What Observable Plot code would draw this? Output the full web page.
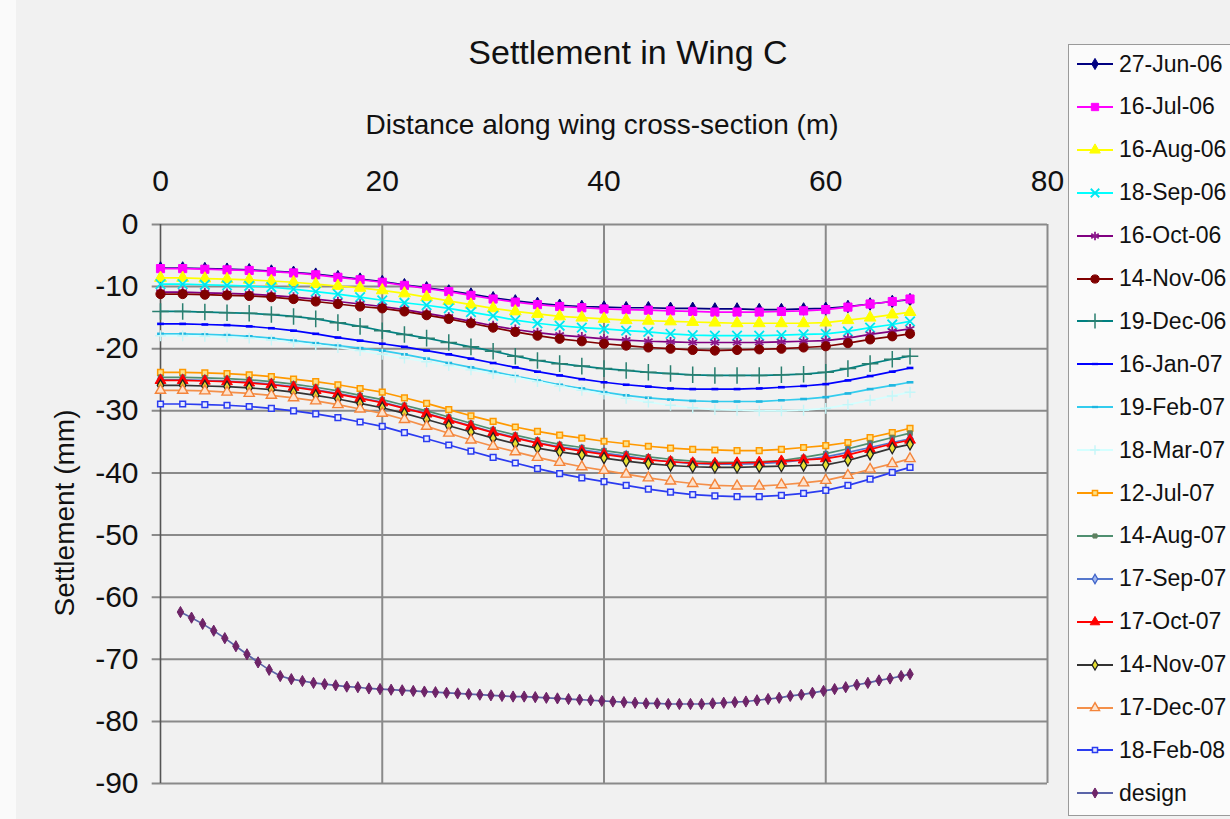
<!DOCTYPE html>
<html>
<head>
<meta charset="utf-8">
<script src="https://cdn.jsdelivr.net/npm/d3@7"></script>
<script src="https://cdn.jsdelivr.net/npm/@observablehq/plot@0.6"></script>
<style>
html, body { margin: 0; padding: 0; background: #f1f1f1; }
#wrap { position: relative; width: 1230px; height: 819px; overflow: hidden; background: #f1f1f1;
  font-family: "Liberation Sans", Arial, sans-serif; color: #111; }
#strip { position: absolute; left: 0; top: 0; width: 16px; height: 819px; background: #fafafa; }
#title { position: absolute; left: 0; width: 1256px; top: 32px; line-height: 40px; text-align: center; font-size: 34px; }
#xtitle { position: absolute; left: 0; width: 1204px; top: 108px; line-height: 34px; text-align: center; font-size: 28px; }
#ytitle { position: absolute; left: -85px; width: 300px; top: 496px; line-height: 34px; text-align: center; font-size: 28px;
  transform: rotate(-90deg); transform-origin: 150px 17px; }
#chart { position: absolute; left: 0; top: 0; }
#legend { position: absolute; left: 1068px; top: 44px; width: 175px; height: 772px; background: #fbfbfb;
  border: 1.5px solid #9a9a9a; box-sizing: border-box; }
.item { position: absolute; left: 6px; height: 26px; display: flex; align-items: center; font-size: 23px; white-space: nowrap; }
.item svg { margin-right: 6px; }
</style>
</head>
<body>
<div id="wrap">
  <div id="strip"></div>
  <div id="chart"></div>
  <div id="title">Settlement in Wing C</div>
  <div id="xtitle">Distance along wing cross-section (m)</div>
  <div id="ytitle">Settlement (mm)</div>
  <div id="legend"></div>
</div>
<script>
// ---------------- data ----------------
const xTicks = [0, 20, 40, 60, 80];
const yTicks = [0, -10, -20, -30, -40, -50, -60, -70, -80, -90];

const seriesNames = ["27-Jun-06", "16-Jul-06", "16-Aug-06", "18-Sep-06", "16-Oct-06", "14-Nov-06",
  "19-Dec-06", "16-Jan-07", "19-Feb-07", "18-Mar-07", "12-Jul-07", "14-Aug-07", "17-Sep-07",
  "17-Oct-07", "14-Nov-07", "17-Dec-07", "18-Feb-08", "design"];

// distance along the section (m) for the survey dates
const xMeasured = [0, 2, 4, 6, 8, 10, 12, 14, 16, 18, 20, 22, 24, 26, 28, 30, 32, 34, 36, 38, 40,
  42, 44, 46, 48, 50, 52, 54, 56, 58, 60, 62, 64, 66, 67.6];

const jun27_06 = [-7.0,-7.0,-7.1,-7.2,-7.3,-7.5,-7.7,-8.0,-8.4,-8.8,-9.2,-9.7,-10.2,-10.7,-11.2,-11.8,-12.3,-12.7,-13.0,-13.2,-13.3,-13.4,-13.4,-13.5,-13.5,-13.6,-13.6,-13.7,-13.7,-13.6,-13.5,-13.2,-12.8,-12.4,-12.1];
const jul16_06 = [-7.1,-7.1,-7.2,-7.3,-7.4,-7.6,-7.8,-8.1,-8.5,-8.9,-9.3,-9.8,-10.3,-10.8,-11.4,-12.0,-12.5,-12.9,-13.2,-13.4,-13.6,-13.7,-13.8,-13.9,-14.0,-14.1,-14.1,-14.1,-14.0,-13.9,-13.7,-13.3,-12.8,-12.4,-12.0];
const aug16_06 = [-8.6,-8.6,-8.7,-8.8,-8.9,-9.1,-9.3,-9.6,-9.9,-10.2,-10.6,-11.1,-11.7,-12.3,-12.9,-13.5,-14.0,-14.4,-14.8,-15.0,-15.2,-15.4,-15.5,-15.6,-15.7,-15.8,-15.9,-15.9,-15.9,-15.9,-15.8,-15.4,-15.0,-14.5,-14.1];
const sep18_06 = [-9.6,-9.6,-9.7,-9.8,-9.9,-10.1,-10.4,-10.8,-11.2,-11.7,-12.2,-12.6,-13.0,-13.5,-14.1,-14.7,-15.4,-15.9,-16.3,-16.6,-16.8,-17.1,-17.3,-17.6,-17.8,-17.9,-17.9,-17.9,-17.8,-17.7,-17.6,-17.2,-16.6,-16.1,-15.6];
const oct16_06 = [-10.9,-10.9,-11.0,-11.1,-11.2,-11.4,-11.7,-12.0,-12.4,-12.8,-13.2,-13.7,-14.3,-14.9,-15.6,-16.3,-16.9,-17.4,-17.8,-18.1,-18.4,-18.6,-18.8,-18.9,-19.0,-19.0,-19.0,-19.0,-18.9,-18.8,-18.7,-18.3,-17.7,-17.2,-16.8];
const nov14_06 = [-11.2,-11.2,-11.3,-11.4,-11.5,-11.7,-12.0,-12.4,-12.8,-13.2,-13.5,-14.0,-14.6,-15.2,-15.9,-16.6,-17.3,-17.9,-18.4,-18.8,-19.2,-19.5,-19.8,-20.0,-20.2,-20.3,-20.2,-20.1,-20.0,-19.8,-19.6,-19.1,-18.5,-18.0,-17.6];
const dec19_06 = [-14.0,-14.0,-14.1,-14.2,-14.3,-14.5,-14.8,-15.2,-15.8,-16.4,-17.1,-17.7,-18.3,-19.0,-19.7,-20.4,-21.2,-21.9,-22.4,-22.8,-23.2,-23.5,-23.8,-24.0,-24.2,-24.3,-24.3,-24.3,-24.2,-24.1,-23.8,-23.2,-22.4,-21.7,-21.2];
const jan16_07 = [-16.0,-16.0,-16.1,-16.2,-16.4,-16.7,-17.1,-17.6,-18.2,-18.7,-19.2,-19.7,-20.3,-20.9,-21.6,-22.3,-23.0,-23.7,-24.3,-24.9,-25.4,-25.8,-26.1,-26.4,-26.5,-26.5,-26.5,-26.4,-26.2,-26.0,-25.7,-25.1,-24.4,-23.7,-23.1];
const feb19_07 = [-17.6,-17.6,-17.7,-17.8,-18.0,-18.3,-18.7,-19.1,-19.5,-19.9,-20.3,-20.9,-21.6,-22.3,-23.0,-23.7,-24.4,-25.1,-25.8,-26.4,-27.0,-27.5,-27.9,-28.2,-28.4,-28.5,-28.5,-28.5,-28.3,-28.1,-27.8,-27.2,-26.5,-25.9,-25.4];
const mar18_07 = [-17.9,-17.9,-18.0,-18.1,-18.3,-18.6,-19.0,-19.4,-19.8,-20.3,-20.9,-21.5,-22.1,-22.7,-23.4,-24.0,-24.6,-25.3,-26.0,-26.7,-27.3,-28.0,-28.6,-29.1,-29.5,-29.8,-29.9,-30.0,-30.0,-29.9,-29.6,-29.0,-28.3,-27.6,-27.0];
const jul12_07 = [-23.8,-23.8,-23.9,-24.0,-24.2,-24.5,-24.9,-25.3,-25.8,-26.4,-27.0,-27.9,-28.8,-29.8,-30.8,-31.7,-32.6,-33.3,-33.9,-34.4,-34.9,-35.3,-35.7,-36.0,-36.2,-36.3,-36.4,-36.4,-36.2,-35.9,-35.6,-35.1,-34.3,-33.5,-32.8];
const aug14_07 = [-24.6,-24.6,-24.7,-24.8,-25.0,-25.3,-25.7,-26.2,-26.8,-27.5,-28.2,-29.1,-30.0,-31.0,-32.0,-33.0,-33.9,-34.7,-35.4,-35.9,-36.4,-36.9,-37.4,-37.8,-38.1,-38.3,-38.3,-38.2,-38.0,-37.5,-36.9,-36.1,-35.2,-34.3,-33.6];
const sep17_07 = [-25.0,-25.0,-25.1,-25.2,-25.4,-25.7,-26.1,-26.6,-27.2,-27.9,-28.6,-29.5,-30.4,-31.4,-32.4,-33.4,-34.3,-35.1,-35.8,-36.3,-36.8,-37.3,-37.8,-38.2,-38.5,-38.6,-38.6,-38.5,-38.3,-37.9,-37.4,-36.7,-35.9,-35.1,-34.5];
const oct17_07 = [-25.1,-25.1,-25.2,-25.3,-25.5,-25.8,-26.2,-26.7,-27.3,-28.0,-28.7,-29.6,-30.5,-31.5,-32.5,-33.5,-34.4,-35.2,-35.9,-36.5,-37.0,-37.5,-37.9,-38.2,-38.4,-38.5,-38.4,-38.3,-38.1,-37.9,-37.7,-37.1,-36.2,-35.3,-34.7];
const nov14_07 = [-25.9,-25.9,-26.0,-26.1,-26.3,-26.6,-27.0,-27.5,-28.1,-28.8,-29.5,-30.4,-31.4,-32.4,-33.4,-34.4,-35.3,-36.0,-36.6,-37.1,-37.6,-38.1,-38.5,-38.8,-39.0,-39.1,-39.1,-39.0,-38.9,-38.8,-38.7,-38.0,-37.0,-36.0,-35.4];
const dec17_07 = [-26.7,-26.7,-26.8,-27.0,-27.2,-27.5,-27.9,-28.4,-29.0,-29.7,-30.4,-31.4,-32.5,-33.6,-34.7,-35.7,-36.6,-37.5,-38.3,-39.0,-39.6,-40.2,-40.8,-41.3,-41.7,-42.0,-42.1,-42.1,-41.9,-41.6,-41.2,-40.4,-39.4,-38.5,-37.7];
const feb18_08 = [-28.9,-28.9,-29.0,-29.1,-29.3,-29.6,-30.0,-30.5,-31.1,-31.8,-32.5,-33.5,-34.5,-35.5,-36.5,-37.5,-38.4,-39.3,-40.1,-40.8,-41.4,-42.0,-42.6,-43.1,-43.5,-43.7,-43.8,-43.8,-43.6,-43.3,-42.8,-42.0,-41.0,-39.9,-39.1];

// design settlement profile
const designX = [1.8,2.8,3.8,4.8,5.8,6.8,7.8,8.8,9.8,10.8,11.8,12.8,13.8,14.8,15.8,16.8,17.8,18.8,19.8,20.8,21.8,22.8,23.8,24.8,25.8,26.8,27.8,28.8,29.8,30.8,31.8,32.8,33.8,34.8,35.8,36.8,37.8,38.8,39.8,40.8,41.8,42.8,43.8,44.8,45.8,46.8,47.8,48.8,49.8,50.8,51.8,52.8,53.8,54.8,55.8,56.8,57.8,58.8,59.8,60.8,61.8,62.8,63.8,64.8,65.8,66.8,67.6];
const designY = [-62.4,-63.3,-64.3,-65.4,-66.6,-67.9,-69.2,-70.5,-71.7,-72.7,-73.2,-73.5,-73.8,-74.0,-74.2,-74.4,-74.5,-74.7,-74.8,-74.9,-75.0,-75.1,-75.2,-75.3,-75.4,-75.5,-75.6,-75.7,-75.8,-75.9,-76.0,-76.0,-76.1,-76.2,-76.3,-76.4,-76.5,-76.6,-76.7,-76.8,-76.9,-77.0,-77.1,-77.1,-77.2,-77.2,-77.2,-77.2,-77.1,-77.0,-76.9,-76.8,-76.6,-76.4,-76.2,-75.9,-75.7,-75.4,-75.1,-74.8,-74.5,-74.1,-73.8,-73.4,-73.1,-72.7,-72.4];

const measuredValues = [jun27_06, jul16_06, aug16_06, sep18_06, oct16_06, nov14_06, dec19_06, jan16_07,
  feb19_07, mar18_07, jul12_07, aug14_07, sep17_07, oct17_07, nov14_07, dec17_07, feb18_08];

// ---------------- styles ----------------
const dash = {
  draw(ctx, size) {
    const r = Math.sqrt(size / Math.PI);
    ctx.moveTo(-r, -r * 0.38); ctx.lineTo(r, -r * 0.38); ctx.lineTo(r, r * 0.38); ctx.lineTo(-r, r * 0.38); ctx.closePath();
  }
};
const styles = [
  {line: "#000080", symbol: "diamond", fill: "#000080", stroke: "#000080", r: 3.8, sw: 1},
  {line: "#ff00ff", symbol: "square", fill: "#ff00ff", stroke: "#ff00ff", r: 4.6, sw: 1},
  {line: "#ffff00", symbol: "triangle", fill: "#ffff00", stroke: "#ffff00", r: 4.4, sw: 1},
  {line: "#00ffff", symbol: "times", fill: "none", stroke: "#00e6f0", r: 4.4, sw: 1.8},
  {line: "#800080", symbol: "asterisk", fill: "none", stroke: "#8c1a8c", r: 4.6, sw: 1.8},
  {line: "#800000", symbol: "circle", fill: "#800000", stroke: "#800000", r: 4.6, sw: 1},
  {line: "#008080", symbol: "plus", fill: "none", stroke: "#2a7f70", r: 5.4, sw: 1.5},
  {line: "#0000ff", symbol: dash, fill: "#0000ff", stroke: "none", r: 3.4, sw: 1},
  {line: "#33ccee", symbol: dash, fill: "#1fb6e0", stroke: "none", r: 3.4, sw: 1},
  {line: "#d4ffff", symbol: "plus", fill: "none", stroke: "#c4f6f8", r: 3.6, sw: 1.4},
  {line: "#ff9900", symbol: "square", fill: "#fbe28a", stroke: "#ff9900", r: 3.2, sw: 1.5},
  {line: "#4f8f70", symbol: "square", fill: "#5f8060", stroke: "#5f8060", r: 2.6, sw: 1},
  {line: "#5577cc", symbol: "diamond", fill: "#9fb6ef", stroke: "#3f63c8", r: 3.2, sw: 1.3},
  {line: "#ff0000", symbol: "triangle", fill: "#ff0000", stroke: "#ff0000", r: 4.0, sw: 1},
  {line: "#333333", symbol: "diamond", fill: "#e8e030", stroke: "#222222", r: 3.4, sw: 1.3},
  {line: "#f4904a", symbol: "triangle", fill: "#fde2cc", stroke: "#f4843a", r: 3.8, sw: 1.4},
  {line: "#2b3cf0", symbol: "square", fill: "#e8ecff", stroke: "#2b3cf0", r: 3.2, sw: 1.5},
  {line: "#5a64a8", symbol: "diamond", fill: "#6e2468", stroke: "#6e2468", r: 3.4, sw: 1}
];

// ---------------- tables ----------------
const tables = measuredValues.map((vals, i) => vals.map((v, j) => ({series: seriesNames[i], x: xMeasured[j], y: v})));
tables.push(designY.map((v, j) => ({series: "design", x: designX[j], y: v})));

const seriesMarks = [];
tables.forEach((t, i) => {
  const s = styles[i];
  seriesMarks.push(Plot.line(t, {x: "x", y: "y", stroke: s.line, strokeWidth: 1.7}));
  seriesMarks.push(Plot.dot(t, {x: "x", y: "y", symbol: s.symbol, r: s.r, fill: s.fill, stroke: s.stroke, strokeWidth: s.sw}));
});

const chart = Plot.plot({
  width: 1100, height: 819,
  marginLeft: 160, marginRight: 53, marginTop: 224, marginBottom: 36,
  style: {background: "transparent", fontFamily: "'Liberation Sans', Arial, sans-serif", color: "#111"},
  x: {domain: [0, 80], axis: null},
  y: {domain: [-90, 0], axis: null},
  marks: [
    Plot.ruleX(xTicks.filter(d => d > 0), {stroke: "#8a8a8a", strokeWidth: 2}),
    Plot.ruleY(yTicks, {stroke: "#8a8a8a", strokeWidth: 2, x1: -0.75, x2: 80}),
    Plot.ruleX([0], {stroke: "#555", strokeWidth: 1.6}),
    Plot.axisY(yTicks, {anchor: "left", tickSize: 0, tickPadding: 22, fontSize: 30, label: null, tickFormat: d => String(d)}),
    Plot.axisX(xTicks, {anchor: "top", tickSize: 0, tickPadding: 34, fontSize: 30, label: null, tickFormat: d => String(d)}),
    ...seriesMarks
  ]
});
document.getElementById("chart").appendChild(chart);

// ---------------- legend ----------------
const d3Sym = {diamond: d3.symbolDiamond, square: d3.symbolSquare, triangle: d3.symbolTriangle, times: d3.symbolTimes,
  asterisk: d3.symbolAsterisk, circle: d3.symbolCircle, plus: d3.symbolPlus};
const legend = document.getElementById("legend");
seriesNames.forEach((name, i) => {
  const s = styles[i];
  const row = document.createElement("div");
  row.className = "item";
  row.style.top = (19 + i * 42.9 - 13) + "px";
  const svg = d3.create("svg").attr("width", 38).attr("height", 26);
  svg.append("line").attr("x1", 2).attr("x2", 38).attr("y1", 13).attr("y2", 13).attr("stroke", s.line).attr("stroke-width", 1.8);
  const type = typeof s.symbol === "string" ? d3Sym[s.symbol] : s.symbol;
  svg.append("path").attr("transform", "translate(20,13)")
    .attr("d", d3.symbol().type(type).size(Math.PI * s.r * s.r * 0.8)())
    .attr("fill", s.fill).attr("stroke", s.stroke).attr("stroke-width", s.sw);
  row.appendChild(svg.node());
  const span = document.createElement("span");
  span.textContent = name;
  row.appendChild(span);
  legend.appendChild(row);
});
</script>
</body>
</html>
